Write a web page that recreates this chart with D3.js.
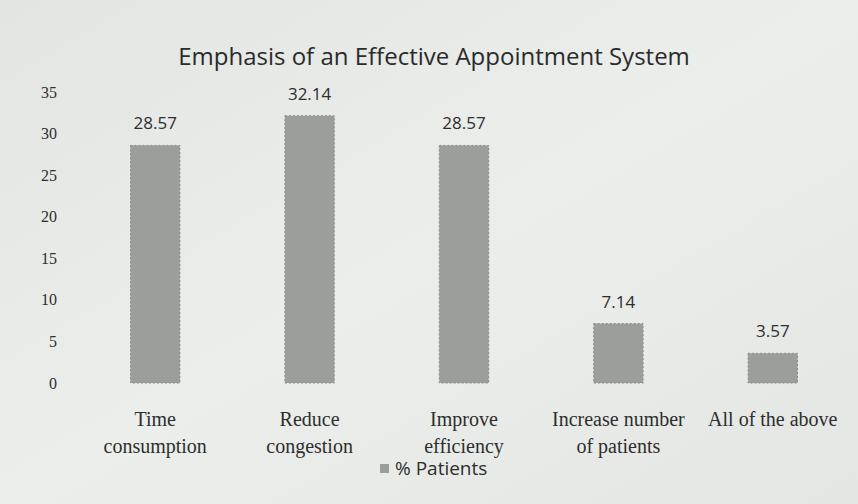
<!DOCTYPE html>
<meta charset="utf-8">
<style>
 body { margin: 0; background: #e7eae7; }
 svg { display: block; }
 .title { font-family: "Open Sans", sans-serif; font-size: 24px; fill: #2b2b2b; }
 .ylab, .xlab { font-family: "Liberation Serif", serif; fill: #2e2e2e; }
 .ylab { font-size: 16px; }
 .xlab { font-size: 20px; }
 .val { font-family: "Open Sans", sans-serif; font-size: 17px; fill: #2e2e2e; }
 .legend text { font-size: 19px; font-family: "Open Sans", sans-serif; fill: #2e2e2e; }
</style>
<svg width="858" height="504"></svg>
<script src="https://cdn.jsdelivr.net/npm/d3@7"></script>
<script>
 var categories = [
   ['Time', 'consumption'],
   ['Reduce', 'congestion'],
   ['Improve', 'efficiency'],
   ['Increase number', 'of patients'],
   ['All of the above']
 ]
 var patients = [28.57, 32.14, 28.57, 7.14, 3.57]
 var yTicks = [0, 5, 10, 15, 20, 25, 30, 35]

 var svg = d3.select('svg')

 // faint paper shading
 var grad = svg.append('defs').append('linearGradient')
               .attr('id', 'paper').attr('x1', 0).attr('x2', 1).attr('y1', 0).attr('y2', 1)
 grad.append('stop').attr('offset', '0%').attr('stop-color', '#e2e5e2')
 grad.append('stop').attr('offset', '50%').attr('stop-color', '#ebeeeb')
 grad.append('stop').attr('offset', '100%').attr('stop-color', '#e3e6e3')
 svg.append('rect').attr('width', 858).attr('height', 504).attr('fill', 'url(#paper)')

 var x = d3.scaleBand()
           .domain(d3.range(categories.length))
           .range([78, 850])
           .paddingInner(0.68)
           .paddingOuter(0.34)

 var y = d3.scaleLinear()
           .domain([0, 35])
           .range([383, 92])

 svg.append('text')
    .attr('class', 'title')
    .attr('x', 434)
    .attr('y', 65)
    .attr('text-anchor', 'middle')
    .text('Emphasis of an Effective Appointment System')

 svg.append('g')
    .selectAll('text')
    .data(yTicks)
    .join('text')
    .attr('class', 'ylab')
    .attr('x', 57)
    .attr('y', d => y(d))
    .attr('dy', '0.35em')
    .attr('text-anchor', 'end')
    .text(d => d)

 var bars = svg.append('g')
 bars.selectAll('rect')
     .data(patients)
     .join('rect')
     .attr('x', (d, i) => x(i))
     .attr('width', x.bandwidth())
     .attr('y', d => y(d))
     .attr('height', d => y(0) - y(d))
     .attr('fill', '#9c9e9b')
     .attr('stroke', '#8a8c89')
     .attr('stroke-dasharray', '2,2')

 bars.selectAll('text')
     .data(patients)
     .join('text')
     .attr('class', 'val')
     .attr('x', (d, i) => x(i) + x.bandwidth() / 2)
     .attr('y', d => y(d) - 16)
     .attr('text-anchor', 'middle')
     .text(d => d.toFixed(2))

 var xl = svg.append('g')
             .selectAll('text')
             .data(categories)
             .join('text')
             .attr('class', 'xlab')
             .attr('text-anchor', 'middle')
             .attr('x', (d, i) => x(i) + x.bandwidth() / 2)
             .attr('y', 426)
 xl.selectAll('tspan')
   .data(d => d)
   .join('tspan')
   .attr('x', function () { return d3.select(this.parentNode).attr('x') })
   .attr('dy', (d, i) => i ? 27 : 0)
   .text(d => d)

 var legend = svg.append('g').attr('class', 'legend')
 legend.append('rect')
       .attr('x', 380).attr('y', 464).attr('width', 9).attr('height', 9)
       .attr('fill', '#9c9e9b')
 legend.append('text')
       .attr('x', 395).attr('y', 475)
       .text('% Patients')
</script>
